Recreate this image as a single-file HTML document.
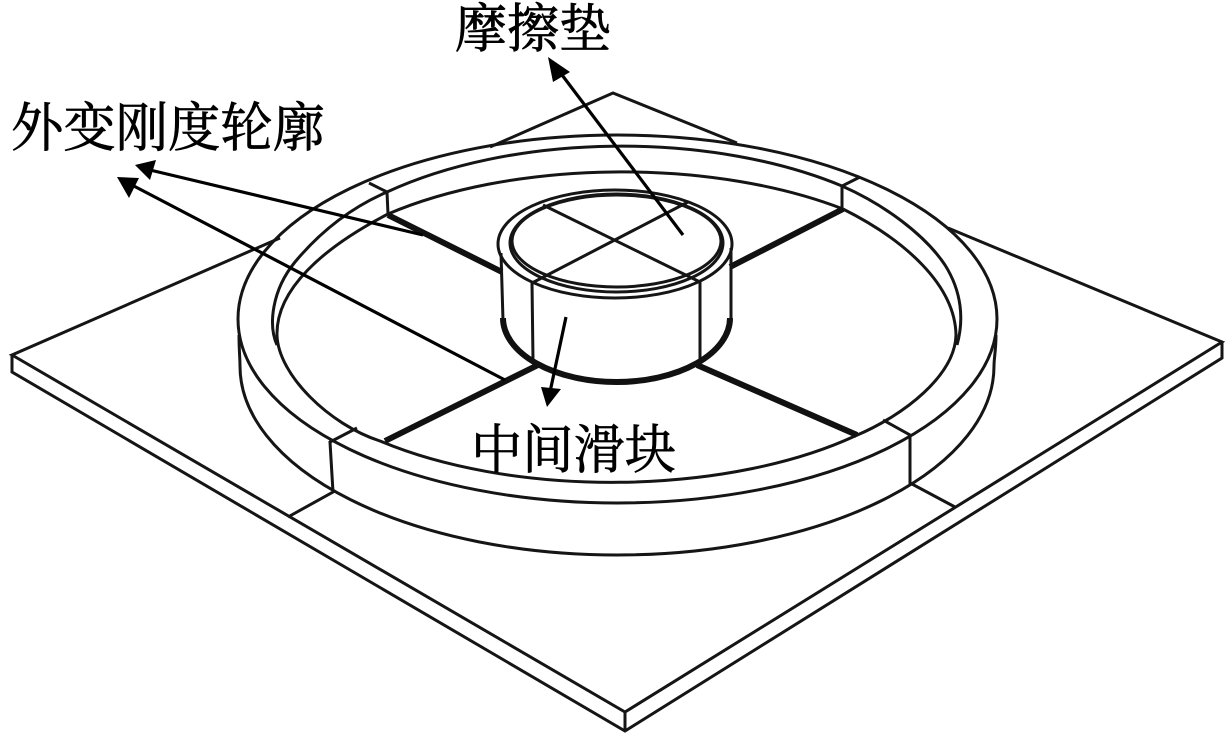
<!DOCTYPE html>
<html><head><meta charset="utf-8"><style>
html,body{margin:0;padding:0;background:#fff}
svg{display:block}
text{font-family:"Liberation Serif","Noto Serif CJK SC",serif;fill:#000;stroke:#000;stroke-width:.7;font-size:53px}
.l{fill:none;stroke:#151515;stroke-width:3}
.t{fill:none;stroke:#111;stroke-width:6}
.a{fill:none;stroke:#000;stroke-width:3.2}
</style></head><body>
<svg width="1225" height="733" viewBox="0 0 1225 733" xmlns="http://www.w3.org/2000/svg">
<!-- plate -->
<path class="l" d="M280,238L12,355L625,712L1222,342L948,228M490,147L613,93L737,143M12,355V372L625,731L1222,358V342"/>
<path class="l" d="M625,712V731"/>
<!-- ring -->
<ellipse class="l" cx="617.5" cy="319" rx="379.5" ry="184"/>
<path class="l" d="M277,345C268,325 272,290 295,262C320,232 350,208 387,192A343,170 0 0 1 842,186C885,205 925,235 945,265C962,292 964,320 957,345"/>
<path class="l" d="M388,214C322,248 276,290 277,335C278,375 330,425 380,441A341,155 0 0 0 855,436C905,415 955,375 956,335C955,285 905,240 843,209A341,155 0 0 0 388,214Z"/>
<path class="l" d="M239,335C239,350 240,358 240,366A377,189 0 0 0 994,366C994,358 996,350 996,335"/>
<!-- notches -->
<path class="l" d="M369,183L387,192L388,214M860,177L842,186V209M357,428L330,442L333,492L288,517M883,420L910,435V483L955,507"/>
<!-- thick spokes -->
<path class="t" d="M388,215L502,272M730,267L843,209M385,441L538,365M697,365L857,435"/>
<!-- slider -->
<ellipse class="l" cx="615" cy="244" rx="117" ry="54"/>
<ellipse class="l" cx="616.500" cy="243" rx="106.500" ry="49"/>
<ellipse class="l" cx="616.500" cy="241" rx="104.500" ry="46"/>
<path class="l" d="M543,205L700,282M688,202L532,283M532,283L533,360M700,282V360M501,253L503,320M731,248V320"/>
<path class="t" d="M503,318A113.500,64 0 0 0 730,318"/>
<!-- arrows -->
<path class="a" d="M683,235L556,67M566,317L550,392M423,235L150,170M505,380L130,184"/>
<polygon points="548,57 570,72 553,82"/>
<polygon points="547,407 541,387 561,389"/>
<polygon points="135,165 156,160 150,180"/>
<polygon points="117,177 139,178 129,198"/>
<!-- labels -->
<text x="455" y="47" textLength="156" lengthAdjust="spacingAndGlyphs">摩擦垫</text>
<text x="11" y="146" textLength="314" lengthAdjust="spacingAndGlyphs">外变刚度轮廓</text>
<text x="471" y="468" textLength="205" lengthAdjust="spacingAndGlyphs">中间滑块</text>
</svg>
</body></html>
